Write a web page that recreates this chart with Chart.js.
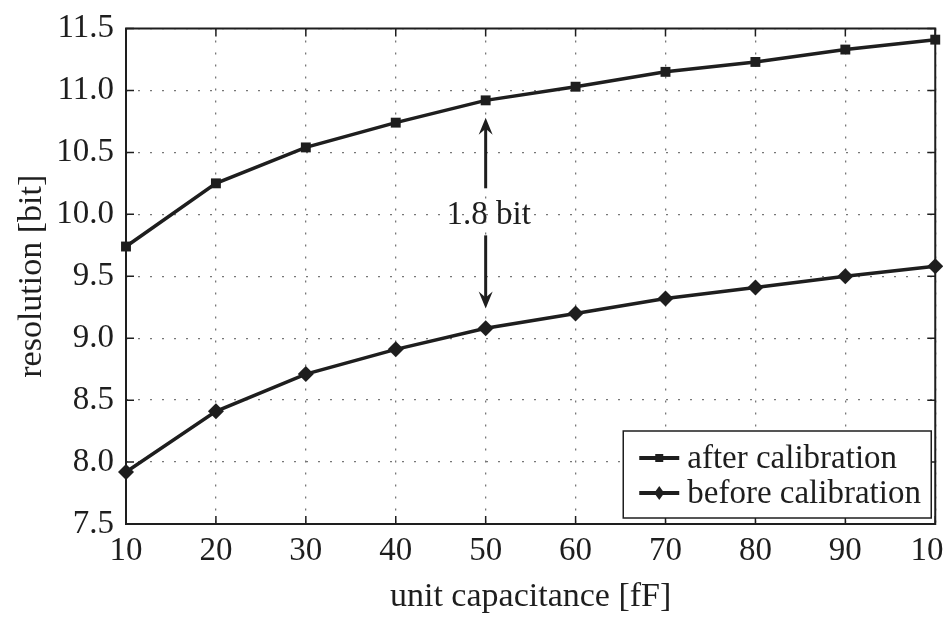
<!DOCTYPE html>
<html>
<head>
<meta charset="utf-8">
<script src="https://cdn.jsdelivr.net/npm/chart.js@4.4.1/dist/chart.umd.min.js"></script>
<style>
  html, body { margin: 0; padding: 0; background: #fff; overflow: hidden; }
  #wrap { position: absolute; left: 0; top: 0; width: 968px; height: 621px; }
</style>
</head>
<body>
<div id="wrap"><canvas id="chart"></canvas></div>
<script>
// unit capacitance [fF]
const capacitance = [10, 20, 30, 40, 50, 60, 70, 80, 90, 100];
const afterCal = [9.74, 10.25, 10.54, 10.74, 10.92, 11.03, 11.15, 11.23, 11.33, 11.41];
const beforeCal = [7.92, 8.41, 8.71, 8.91, 9.08, 9.20, 9.32, 9.41, 9.50, 9.58];
const seriesNames = ['after calibration', 'before calibration'];

// "1.8 bit" gap annotation at 50 fF
const gapX = 50;
const gapLabel = '1.8 bit';
const upperArrow = [10.21, 10.78];  // tail, tip
const lowerArrow = [9.83, 9.24];
const gapTextY = 9.99;

const SERIF = '"Liberation Serif", "DejaVu Serif", serif';
const INK = '#1e1e1e';

function toPoints(ys) {
    return capacitance.map((x, i) => ({ x: x, y: ys[i] }));
}

function arrow(ctx, x, y0, y1) {
    const dir = y1 > y0 ? 1 : -1;
    const head = 17;
    ctx.beginPath();
    ctx.moveTo(x, y0);
    ctx.lineTo(x, y1 - dir * head * 0.6);
    ctx.stroke();
    ctx.beginPath();
    ctx.moveTo(x, y1);
    ctx.lineTo(x - 7, y1 - dir * head);
    ctx.lineTo(x, y1 - dir * head * 0.65);
    ctx.lineTo(x + 7, y1 - dir * head);
    ctx.closePath();
    ctx.fill();
}

// frame, inward ticks, annotation and legend box
const decorPlugin = {
    id: 'decor',
    afterDatasetsDraw(chart) {
        const ctx = chart.ctx;
        const a = chart.chartArea;
        const xs = chart.scales.x;
        const ys = chart.scales.y;
        ctx.save();
        ctx.strokeStyle = INK;
        ctx.fillStyle = INK;

        // inward tick marks
        ctx.lineWidth = 1.5;
        xs.ticks.forEach(t => {
            const px = xs.getPixelForValue(t.value);
            ctx.beginPath();
            ctx.moveTo(px, a.bottom); ctx.lineTo(px, a.bottom - 8);
            ctx.moveTo(px, a.top); ctx.lineTo(px, a.top + 8);
            ctx.stroke();
        });
        ys.ticks.forEach(t => {
            const py = ys.getPixelForValue(t.value);
            ctx.beginPath();
            ctx.moveTo(a.left, py); ctx.lineTo(a.left + 8, py);
            ctx.moveTo(a.right, py); ctx.lineTo(a.right - 8, py);
            ctx.stroke();
        });

        // box
        ctx.lineWidth = 2;
        ctx.strokeRect(a.left, a.top, a.right - a.left, a.bottom - a.top);

        // gap annotation
        const gx = xs.getPixelForValue(gapX);
        ctx.lineWidth = 3;
        arrow(ctx, gx, ys.getPixelForValue(upperArrow[0]), ys.getPixelForValue(upperArrow[1]));
        arrow(ctx, gx, ys.getPixelForValue(lowerArrow[0]), ys.getPixelForValue(lowerArrow[1]));
        ctx.font = '33px ' + SERIF;
        ctx.textAlign = 'center';
        ctx.textBaseline = 'middle';
        ctx.fillText(gapLabel, gx + 3, ys.getPixelForValue(gapTextY));

        // legend
        const bw = 308, bh = 87;
        const bx = a.right - 4 - bw, by = a.bottom - 6 - bh;
        ctx.fillStyle = '#fff';
        ctx.fillRect(bx, by, bw, bh);
        ctx.lineWidth = 1.5;
        ctx.strokeRect(bx, by, bw, bh);
        ctx.fillStyle = INK;
        ctx.textAlign = 'left';
        chart.data.datasets.forEach((ds, i) => {
            const ly = by + 27 + i * 35;
            ctx.lineWidth = 4;
            ctx.beginPath();
            ctx.moveTo(bx + 16, ly); ctx.lineTo(bx + 56, ly);
            ctx.stroke();
            if (ds.pointStyle === 'rect') {
                ctx.fillRect(bx + 36 - 4, ly - 4, 8, 8);
            } else {
                ctx.beginPath();
                ctx.moveTo(bx + 36, ly - 7); ctx.lineTo(bx + 41, ly);
                ctx.lineTo(bx + 36, ly + 7); ctx.lineTo(bx + 31, ly);
                ctx.closePath(); ctx.fill();
            }
            ctx.fillText(ds.label, bx + 64, ly + 1);
        });
        ctx.restore();
    }
};

const gridStyle = {
    color: '#777',
    lineWidth: 1.3,
    drawTicks: false
};
const borderStyle = { display: false, dash: [2, 10] };

new Chart(document.getElementById('chart'), {
    type: 'line',
    data: {
        datasets: [
            {
                label: seriesNames[0],
                data: toPoints(afterCal),
                borderColor: INK,
                backgroundColor: INK,
                borderWidth: 3.5,
                pointStyle: 'rect',
                pointRadius: 7,
                pointBorderWidth: 0,
                clip: false
            },
            {
                label: seriesNames[1],
                data: toPoints(beforeCal),
                borderColor: INK,
                backgroundColor: INK,
                borderWidth: 3.5,
                pointStyle: 'rectRot',
                pointRadius: 8,
                pointBorderWidth: 0,
                clip: false
            }
        ]
    },
    options: {
        responsive: true,
        maintainAspectRatio: false,
        animation: false,
        layout: { padding: { top: 28, left: 0, right: 0, bottom: 0 } },
        plugins: {
            legend: { display: false },
            tooltip: { enabled: false }
        },
        scales: {
            x: {
                type: 'linear',
                min: 10,
                max: 100,
                grid: gridStyle,
                border: borderStyle,
                afterFit(scale) { scale.height = 97; },
                ticks: {
                    stepSize: 10,
                    padding: 8,
                    color: INK,
                    font: { family: SERIF, size: 33 }
                },
                title: {
                    display: true,
                    text: 'unit capacitance [fF]',
                    color: INK,
                    font: { family: SERIF, size: 34 },
                    padding: { top: 0, bottom: 4 }
                }
            },
            y: {
                min: 7.5,
                max: 11.5,
                grid: gridStyle,
                border: borderStyle,
                afterFit(scale) { scale.width = 126; },
                ticks: {
                    stepSize: 0.5,
                    padding: 12,
                    color: INK,
                    font: { family: SERIF, size: 33, lineHeight: 1 },
                    callback: v => v.toFixed(1)
                },
                title: {
                    display: true,
                    text: 'resolution [bit]',
                    color: INK,
                    font: { family: SERIF, size: 34 },
                    padding: { top: 12, bottom: 0 }
                }
            }
        }
    },
    plugins: [decorPlugin]
});
</script>
</body>
</html>
